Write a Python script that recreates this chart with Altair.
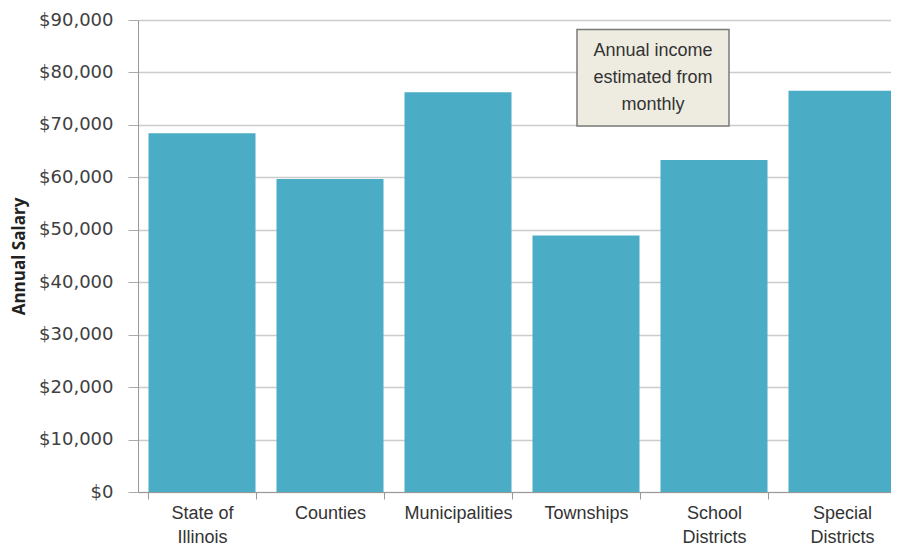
import altair as alt
import pandas as pd

categories = ["State of Illinois", "Counties", "Municipalities", "Townships",
              "School Districts", "Special Districts"]
salaries = [68400, 59700, 76200, 48900, 63300, 76500]

note_lines = "Annual income\nestimated from\nmonthly"
note_top = 88200
note_bottom = 69800
note_mid = 79000

df = pd.DataFrame({"category": categories, "salary": salaries})
note_df = pd.DataFrame({"text": [note_lines], "top": [note_top],
                        "bottom": [note_bottom], "mid": [note_mid]})

xscale = alt.Scale(domain=categories, range=[0, 768], paddingInner=0.164, paddingOuter=0.082)
yscale = alt.Scale(domain=[0, 90000], nice=False)

bars = alt.Chart(df).mark_bar(color="#4BACC6").encode(
    x=alt.X("category:N", sort=categories, scale=xscale,
            axis=alt.Axis(title=None, labelAngle=0, tickBand="extent",
                          labelExpr="datum.label == 'State of Illinois' ? ['State of', 'Illinois'] : split(datum.label, ' ')",
                          labelFont="Liberation Sans", labelFontSize=18,
                          labelLineHeight=24, labelColor="#333333", labelPadding=5,
                          tickSize=7, tickColor="#999999", domainColor="#999999",
                          grid=False)),
    y=alt.Y("salary:Q", scale=yscale,
            axis=alt.Axis(title="Annual Salary", values=list(range(0, 90001, 10000)),
                          format="$,.0f", labelFont="DejaVu Sans", labelFontSize=18,
                          labelColor="#404040", labelPadding=15, tickSize=10,
                          tickColor="#aaaaaa", domainColor="#999999",
                          gridColor="#cccccc", gridWidth=1.5,
                          titleFont="Open Sans", titleFontSize=17, titleFontWeight="bold",
                          titleColor="#222222", titlePadding=10)),
)

box = alt.Chart(note_df).mark_rect(fill="#eeece1", stroke="#7a7a7a", strokeWidth=1.5).encode(
    x=alt.value(439), x2=alt.value(591),
    y=alt.Y("top:Q", scale=yscale), y2="bottom:Q",
)

txt = alt.Chart(note_df).mark_text(lineBreak="\n", lineHeight=27, fontSize=18, dy=-27,
                                   font="Liberation Sans",
                                   color="#333333", align="center", baseline="middle").encode(
    x=alt.value(515), y=alt.Y("mid:Q", scale=yscale), text="text:N",
)

chart = alt.layer(bars, box, txt).properties(
    width=753, height=472,
    autosize=alt.AutoSizeParams(type="none"),
    padding={"left": 130, "top": 12, "right": 0, "bottom": 58},
).configure_view(stroke=None)

chart.save("out.html", embed_options={"renderer": "svg", "actions": False})
